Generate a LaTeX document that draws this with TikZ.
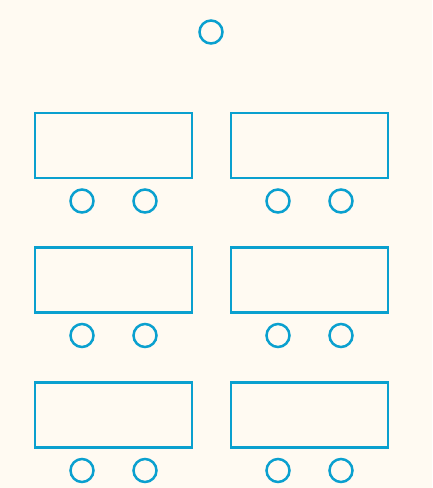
\documentclass[tikz,border=0pt]{standalone}
\usepackage{tikz}
\usetikzlibrary{positioning}
\definecolor{paper}{HTML}{FFFAF2}
\definecolor{seatblue}{HTML}{0AA0CF}

\begin{document}
\begin{tikzpicture}[
    x=1pt, y=-1pt,
    desk/.style={draw=seatblue, line width=2.5pt, minimum width=157pt, minimum height=65pt, inner sep=0pt},
    chair/.style={draw=seatblue, line width=2.5pt, circle, minimum size=23pt, inner sep=0pt},
]
% ----- background and page size
\fill[paper] (0,0) rectangle (432,488);
\useasboundingbox (0,0) rectangle (432,488);
% ----- teacher's chair
\node[chair] (teacher) at (211,32) {};
% ----- rows of desks, two chairs under each
\foreach \r/\y in {1/145.5, 2/280, 3/415} {
  \node[desk] (deskL\r) at (113.5,\y) {};
  \node[desk] (deskR\r) at (309.5,\y) {};
  \node[chair] (chairLa\r) at (82,\y+55.5) {};
  \node[chair] (chairLb\r) at (145,\y+55.5) {};
  \node[chair] (chairRa\r) at (278,\y+55.5) {};
  \node[chair] (chairRb\r) at (341,\y+55.5) {};
}
\end{tikzpicture}
\end{document}
